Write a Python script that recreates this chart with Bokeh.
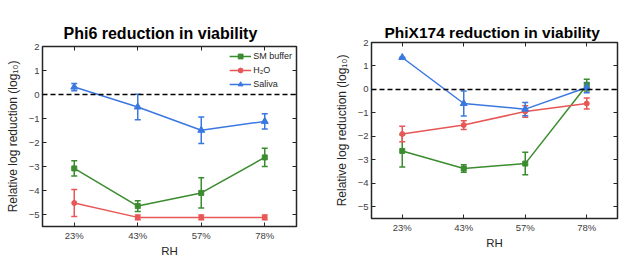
from bokeh.plotting import figure
from bokeh.models import (ColumnDataSource, Range1d, FactorRange, FixedTicker, Whisker,
                          TeeHead, Span, Legend, LegendItem, LinearAxis, CategoricalAxis)
from bokeh.layouts import row, column
from bokeh.embed import file_html
from bokeh.resources import INLINE

rh = ["23%", "43%", "57%", "78%"]
y_ticks = [-5, -4, -3, -2, -1, 0, 1, 2]

phi6_sm = [-3.08, -4.65, -4.1, -2.62]
phi6_sm_err = [0.32, 0.22, 0.63, 0.38]
phi6_h2o = [-4.52, -5.12, -5.12, -5.12]
phi6_h2o_err = [0.56, 0.1, 0.1, 0.1]
phi6_saliva = [0.31, -0.52, -1.49, -1.12]
phi6_saliva_err = [0.15, 0.53, 0.55, 0.32]

phix_sm = [-2.62, -3.37, -3.16, 0.18]
phix_sm_err = [0.69, 0.16, 0.48, 0.25]
phix_h2o = [-1.9, -1.52, -0.94, -0.6]
phix_h2o_err = [0.33, 0.19, 0.25, 0.23]
phix_saliva = [1.36, -0.6, -0.84, 0.08]
phix_saliva_err = [0.0, 0.53, 0.28, 0.22]

series_names = ["SM buffer", "H\u2082O", "Saliva"]
colors = ["#3b8c2f", "#e85656", "#3a78e0"]
markers = ["square", "circle", "triangle"]
marker_sizes = [5, 5, 7]

FONT = "Liberation Sans"
DARK = "#262626"


def make_panel(title, values, errors, w, h, bl, br, bt, bb, t_size, t_off, t_stand, legend=False):
    p = figure(x_range=FactorRange(*rh, range_padding=0), y_range=Range1d(-5.5, 2),
               width=w, height=h,
               min_border_left=bl, min_border_right=br, min_border_top=bt, min_border_bottom=bb,
               output_backend="svg", toolbar_location=None, background_fill_color="white")
    p.title.text = title
    p.title.align = "left"
    p.title.offset = t_off
    p.title.text_font = FONT
    p.title.text_font_size = t_size
    p.title.text_font_style = "bold"
    p.title.text_color = "black"
    p.title.standoff = t_stand
    p.grid.visible = False
    p.outline_line_color = DARK
    p.outline_line_width = 1.5
    p.outline_line_alpha = 1

    p.yaxis.ticker = FixedTicker(ticks=y_ticks)
    for ax in (p.xaxis[0], p.yaxis[0]):
        ax.axis_line_alpha = 0
        ax.major_tick_in = 4
        ax.major_tick_out = 0
        ax.minor_tick_line_alpha = 0
        ax.major_tick_line_color = DARK
        ax.major_label_text_font = FONT
        ax.major_label_text_font_size = "9.5px"
        ax.major_label_text_color = "#404040"
        ax.axis_label_text_font = FONT
        ax.axis_label_text_font_size = "11.5px"
        ax.axis_label_text_font_style = "normal"
        ax.axis_label_text_color = DARK
    p.xaxis.axis_label = "RH"
    p.xaxis.major_label_standoff = 3
    p.xaxis.axis_label_standoff = 1
    p.yaxis.axis_label = "Relative log reduction (log\u2081\u2080)"
    p.yaxis.axis_label_text_font_size = "12px"
    p.yaxis.major_label_standoff = 3
    p.yaxis.axis_label_standoff = 6

    top = CategoricalAxis(major_tick_in=4, major_tick_out=0, major_label_text_font_size="1px",
                          major_label_text_color=None,
                          major_label_standoff=0, axis_line_alpha=0, major_tick_line_color=DARK)
    right = LinearAxis(ticker=FixedTicker(ticks=y_ticks), major_tick_in=4, major_tick_out=0,
                       minor_tick_line_alpha=0, major_label_text_font_size="1px",
                       major_label_text_color=None,
                       major_label_standoff=0, axis_line_alpha=0, major_tick_line_color=DARK)
    p.add_layout(top, "above")
    p.add_layout(right, "right")

    p.add_layout(Span(location=0, dimension="width", line_color="black", line_width=1.6,
                      line_dash="5 3"))

    items = []
    for name, vals, errs, col, mk, ms in zip(series_names, values, errors, colors, markers, marker_sizes):
        src = ColumnDataSource(dict(x=rh, y=vals,
                                    upper=[v + e for v, e in zip(vals, errs)],
                                    lower=[v - e for v, e in zip(vals, errs)]))
        lr = p.line("x", "y", source=src, line_color=col, line_width=1.5)
        wk = Whisker(base="x", upper="upper", lower="lower", source=src,
                     line_color=col, line_width=1.5,
                     upper_head=TeeHead(size=6, line_color=col, line_width=1.5),
                     lower_head=TeeHead(size=6, line_color=col, line_width=1.5))
        p.add_layout(wk)
        sr = p.scatter("x", "y", source=src, marker=mk, size=ms, fill_color=col, line_color=col)
        items.append(LegendItem(label=name, renderers=[lr, sr]))

    if legend:
        lg = Legend(items=items, location="top_right", border_line_alpha=0,
                    background_fill_alpha=0, label_text_font=FONT, label_text_font_size="9px",
                    label_text_color=DARK, glyph_width=22, glyph_height=12, label_height=12,
                    spacing=2, padding=4, margin=0, label_standoff=2)
        p.add_layout(lg)
    return p


p1 = make_panel("Phi6 reduction in viability",
                [phi6_sm, phi6_h2o, phi6_saliva],
                [phi6_sm_err, phi6_h2o_err, phi6_saliva_err],
                w=302, h=260, bl=42, br=6, bt=46, bb=34,
                t_size="16px", t_off=21, t_stand=9, legend=True)
p2 = make_panel("PhiX174 reduction in viability",
                [phix_sm, phix_h2o, phix_saliva],
                [phix_sm_err, phix_h2o_err, phix_saliva_err],
                w=317, h=252, bl=69, br=2, bt=42, bb=34,
                t_size="15.5px", t_off=13, t_stand=3)

layout = row(column(p1), column(p2))
open("out.html", "w").write(file_html(layout, INLINE))
